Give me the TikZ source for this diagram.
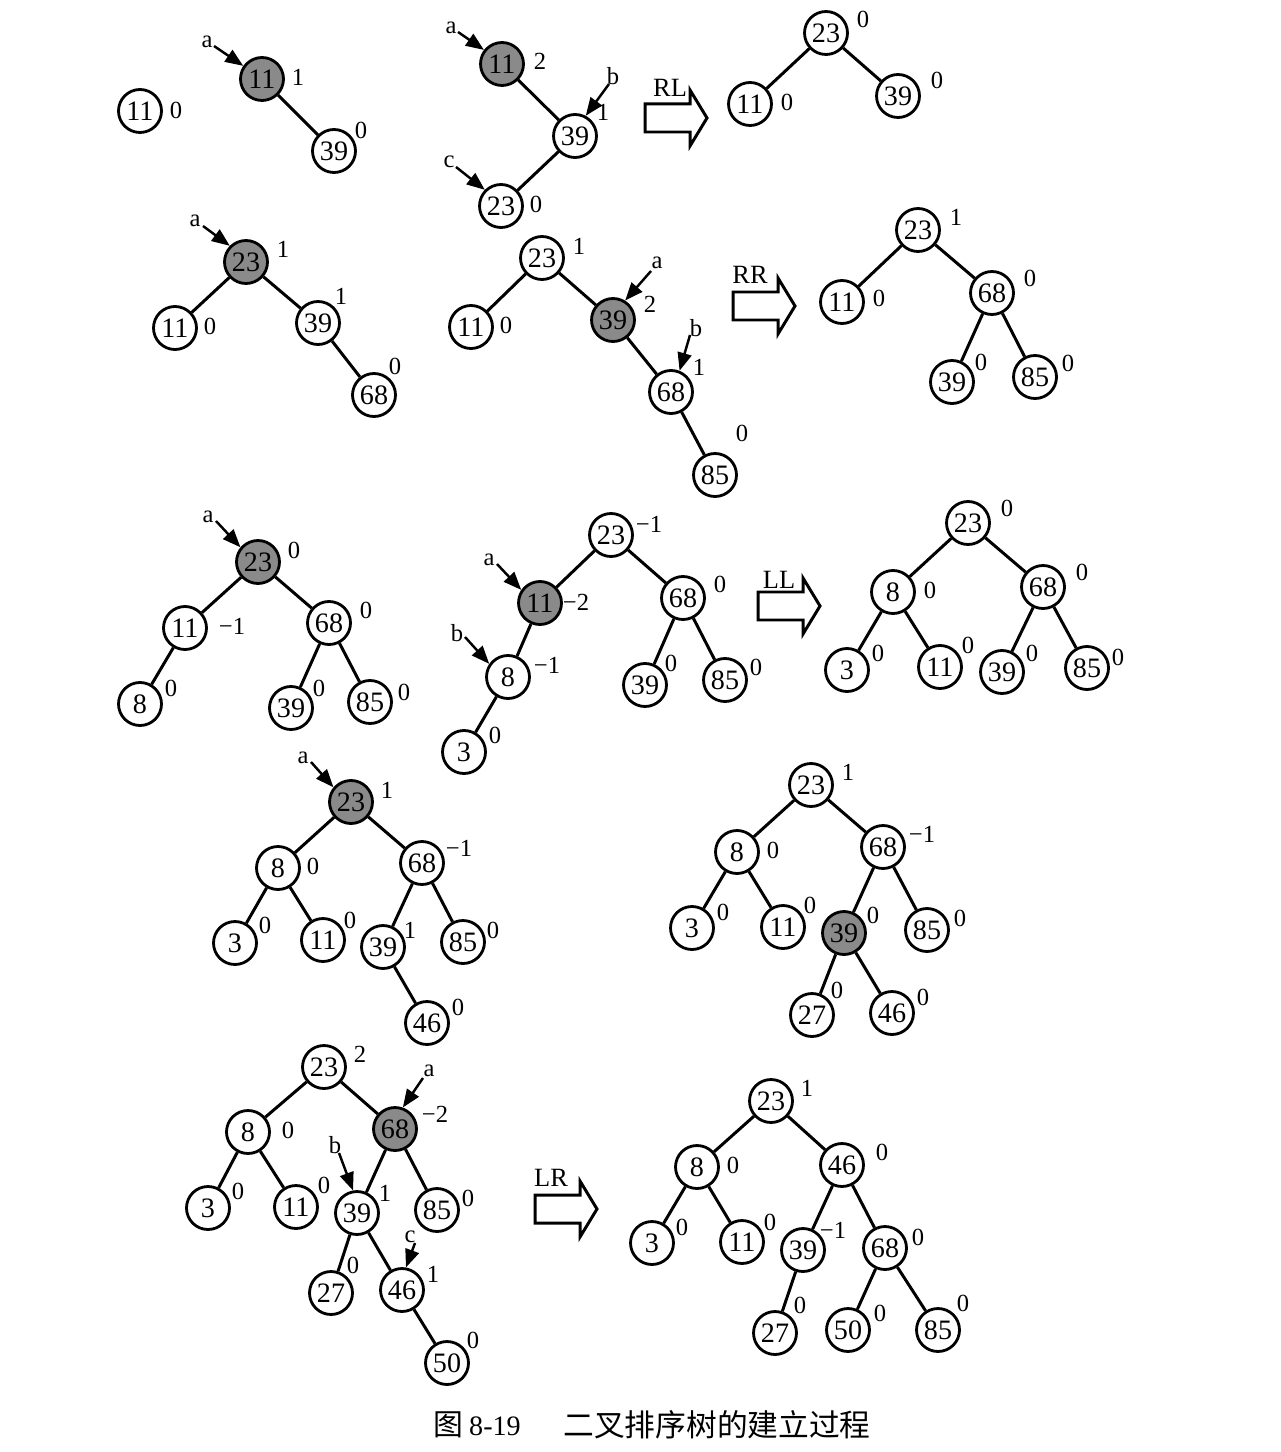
\documentclass[tikz,border=0pt]{standalone}
\usepackage{fontspec}
\setmainfont{Liberation Serif}
\newfontfamily\cjk{Noto Sans CJK SC}
\usetikzlibrary{arrows.meta}
\definecolor{nodegray}{RGB}{138,138,138}
\newcommand\Nd[6]{\node[#1] (#2) at (#3) {#4}; \node[bf] (#2-b) at (#5) {#6};}
\newcommand\Blk[4]{%
  \node[rot] (#1) at (#4) {#1};
  \draw[blk] (#2,#3) ++(0,-14) -- ++(45,0) -- ++(0,-14) -- ++(17,28) -- ++(-17,28) -- ++(0,-14) -- ++(-45,0) -- cycle;}
\begin{document}
\begin{tikzpicture}[x=0.02cm,y=-0.02cm,
  tn/.style={circle,draw,line width=1.6pt,minimum size=0.86cm,inner sep=0pt,fill=white,font=\fontsize{16}{16}\selectfont},
  gn/.style={tn,fill=nodegray},
  bf/.style={inner sep=0pt,font=\fontsize{14}{14}\selectfont},
  lab/.style={inner sep=0pt,font=\fontsize{14}{14}\selectfont},
  edge/.style={line width=1.7pt},
  ptr/.style={line width=1.4pt,-{Triangle[length=0.36cm,width=0.28cm]}},
  blk/.style={line width=1.7pt,fill=white},
  rot/.style={inner sep=0pt,font=\fontsize{15}{15}\selectfont}]
\useasboundingbox[fill=white] (0,0) rectangle (1280,1452);

% ---------- Row 1 ----------
\Nd{tn}{a1}{140,111}{11}{176,110}{0}

\Nd{gn}{b1}{262,79}{11}{298,77}{1}
\Nd{tn}{b2}{334,151}{39}{361,130}{0}
\draw[edge] (b1) -- (b2);
\node[lab] (la-b) at (207,42) {a};
\coordinate (pa-b) at (214,46);
\draw[ptr] (pa-b) -- (b1.145);

\Nd{gn}{c1}{502,64}{11}{540,61}{2}
\Nd{tn}{c2}{575,136}{39}{603,112}{1}
\Nd{tn}{c3}{501,206}{23}{536,204}{0}
\draw[edge] (c1) -- (c2) (c2) -- (c3);
\node[lab] (la-c) at (451,28) {a};
\coordinate (pa-c) at (458,32);
\draw[ptr] (pa-c) -- (c1.142);
\node[lab] (lb-c) at (613,76) {b};
\coordinate (pb-c) at (609,84);
\draw[ptr] (pb-c) -- (c2.62);
\node[lab] (lc-c) at (449,162) {c};
\coordinate (pc-c) at (456,167);
\draw[ptr] (pc-c) -- (c3.135);

\Blk{RL}{645}{118}{670,88}

\Nd{tn}{d1}{826,33}{23}{863,19}{0}
\Nd{tn}{d2}{750,104}{11}{787,102}{0}
\Nd{tn}{d3}{898,96}{39}{937,80}{0}
\draw[edge] (d1) -- (d2) (d1) -- (d3);

% ---------- Row 2 ----------
\Nd{gn}{e1}{246,262}{23}{283,249}{1}
\Nd{tn}{e2}{175,328}{11}{210,326}{0}
\Nd{tn}{e3}{318,323}{39}{341,296}{1}
\Nd{tn}{e4}{374,395}{68}{395,366}{0}
\draw[edge] (e1) -- (e2) (e1) -- (e3) (e3) -- (e4);
\node[lab] (la-e) at (195,221) {a};
\coordinate (pa-e) at (203,226);
\draw[ptr] (pa-e) -- (e1.135);

\Nd{tn}{f1}{542,258}{23}{579,246}{1}
\Nd{tn}{f2}{471,327}{11}{506,325}{0}
\Nd{gn}{f3}{613,320}{39}{650,304}{2}
\Nd{tn}{f4}{671,392}{68}{699,367}{1}
\Nd{tn}{f5}{715,475}{85}{742,433}{0}
\draw[edge] (f1) -- (f2) (f1) -- (f3) (f3) -- (f4) (f4) -- (f5);
\node[lab] (la-f) at (657,263) {a};
\coordinate (pa-f) at (651,271);
\draw[ptr] (pa-f) -- (f3.58);
\node[lab] (lb-f) at (696,328) {b};
\coordinate (pb-f) at (690,335);
\draw[ptr] (pb-f) -- (f4.68);

\Blk{RR}{733}{306}{750,275}

\Nd{tn}{g1}{918,230}{23}{956,217}{1}
\Nd{tn}{g2}{842,302}{11}{879,298}{0}
\Nd{tn}{g3}{992,293}{68}{1030,278}{0}
\Nd{tn}{g4}{952,382}{39}{981,362}{0}
\Nd{tn}{g5}{1035,377}{85}{1068,363}{0}
\draw[edge] (g1) -- (g2) (g1) -- (g3) (g3) -- (g4) (g3) -- (g5);

% ---------- Row 3 ----------
\Nd{gn}{h1}{258,562}{23}{294,550}{0}
\Nd{tn}{h2}{185,628}{11}{232,626}{−1}
\Nd{tn}{h3}{329,623}{68}{366,610}{0}
\Nd{tn}{h4}{140,704}{8}{171,688}{0}
\Nd{tn}{h5}{291,708}{39}{319,688}{0}
\Nd{tn}{h6}{370,702}{85}{404,692}{0}
\draw[edge] (h1) -- (h2) (h1) -- (h3) (h2) -- (h4) (h3) -- (h5) (h3) -- (h6);
\node[lab] (la-h) at (208,517) {a};
\coordinate (pa-h) at (216,521);
\draw[ptr] (pa-h) -- (h1.140);

\Nd{tn}{i1}{611,535}{23}{649,524}{−1}
\Nd{gn}{i2}{540,603}{11}{576,602}{−2}
\Nd{tn}{i3}{683,598}{68}{720,584}{0}
\Nd{tn}{i4}{508,677}{8}{547,665}{−1}
\Nd{tn}{i5}{464,752}{3}{495,735}{0}
\Nd{tn}{i6}{645,685}{39}{671,663}{0}
\Nd{tn}{i7}{725,680}{85}{756,667}{0}
\draw[edge] (i1) -- (i2) (i1) -- (i3) (i2) -- (i4) (i4) -- (i5) (i3) -- (i6) (i3) -- (i7);
\node[lab] (la-i) at (489,560) {a};
\coordinate (pa-i) at (497,564);
\draw[ptr] (pa-i) -- (i2.145);
\node[lab] (lb-i) at (457,633) {b};
\coordinate (pb-i) at (465,637);
\draw[ptr] (pb-i) -- (i4.145);

\Blk{LL}{758}{606}{779,580}

\Nd{tn}{j1}{968,523}{23}{1007,508}{0}
\Nd{tn}{j2}{893,592}{8}{930,590}{0}
\Nd{tn}{j3}{1043,587}{68}{1082,572}{0}
\Nd{tn}{j4}{847,670}{3}{878,653}{0}
\Nd{tn}{j5}{940,667}{11}{968,645}{0}
\Nd{tn}{j6}{1002,672}{39}{1032,653}{0}
\Nd{tn}{j7}{1087,668}{85}{1118,657}{0}
\draw[edge] (j1) -- (j2) (j1) -- (j3) (j2) -- (j4) (j2) -- (j5) (j3) -- (j6) (j3) -- (j7);

% ---------- Row 4 ----------
\Nd{gn}{k1}{351,802}{23}{387,790}{1}
\Nd{tn}{k2}{278,868}{8}{313,866}{0}
\Nd{tn}{k3}{422,863}{68}{459,848}{−1}
\Nd{tn}{k4}{235,943}{3}{265,925}{0}
\Nd{tn}{k5}{323,940}{11}{350,920}{0}
\Nd{tn}{k6}{383,947}{39}{410,930}{1}
\Nd{tn}{k7}{463,942}{85}{493,930}{0}
\Nd{tn}{k8}{427,1023}{46}{458,1007}{0}
\draw[edge] (k1) -- (k2) (k1) -- (k3) (k2) -- (k4) (k2) -- (k5) (k3) -- (k6) (k3) -- (k7) (k6) -- (k8);
\node[lab] (la-k) at (303,758) {a};
\coordinate (pa-k) at (311,762);
\draw[ptr] (pa-k) -- (k1.140);

\Nd{tn}{l1}{811,785}{23}{848,772}{1}
\Nd{tn}{l2}{737,852}{8}{773,850}{0}
\Nd{tn}{l3}{883,847}{68}{922,834}{−1}
\Nd{tn}{l4}{692,928}{3}{723,912}{0}
\Nd{tn}{l5}{783,927}{11}{810,905}{0}
\Nd{gn}{l6}{844,933}{39}{873,915}{0}
\Nd{tn}{l7}{927,930}{85}{960,918}{0}
\Nd{tn}{l8}{812,1015}{27}{837,990}{0}
\Nd{tn}{l9}{892,1013}{46}{923,997}{0}
\draw[edge] (l1) -- (l2) (l1) -- (l3) (l2) -- (l4) (l2) -- (l5) (l3) -- (l6) (l3) -- (l7) (l6) -- (l8) (l6) -- (l9);

% ---------- Row 5 ----------
\Nd{tn}{m1}{324,1067}{23}{360,1054}{2}
\Nd{tn}{m2}{248,1132}{8}{288,1130}{0}
\Nd{gn}{m3}{395,1129}{68}{435,1114}{−2}
\Nd{tn}{m4}{208,1208}{3}{238,1191}{0}
\Nd{tn}{m5}{296,1207}{11}{324,1185}{0}
\Nd{tn}{m6}{357,1213}{39}{385,1193}{1}
\Nd{tn}{m7}{437,1210}{85}{468,1198}{0}
\Nd{tn}{m8}{331,1293}{27}{353,1265}{0}
\Nd{tn}{m9}{402,1290}{46}{433,1274}{1}
\Nd{tn}{m10}{447,1363}{50}{473,1340}{0}
\draw[edge] (m1) -- (m2) (m1) -- (m3) (m2) -- (m4) (m2) -- (m5) (m3) -- (m6) (m3) -- (m7) (m6) -- (m8) (m6) -- (m9) (m9) -- (m10);
\node[lab] (la-m) at (429,1071) {a};
\coordinate (pa-m) at (423,1078);
\draw[ptr] (pa-m) -- (m3.70);
\node[lab] (lb-m) at (335,1145) {b};
\coordinate (pb-m) at (339,1153);
\draw[ptr] (pb-m) -- (m6.100);
\node[lab] (lc-m) at (410,1237) {c};
\coordinate (pc-m) at (415,1243);
\draw[ptr] (pc-m) -- (m9.80);

\Blk{LR}{535}{1209}{551,1178}

\Nd{tn}{p1}{771,1101}{23}{807,1088}{1}
\Nd{tn}{p2}{697,1167}{8}{733,1165}{0}
\Nd{tn}{p3}{842,1165}{46}{882,1152}{0}
\Nd{tn}{p4}{652,1243}{3}{682,1227}{0}
\Nd{tn}{p5}{742,1242}{11}{770,1222}{0}
\Nd{tn}{p6}{803,1250}{39}{833,1230}{−1}
\Nd{tn}{p7}{885,1248}{68}{918,1237}{0}
\Nd{tn}{p8}{775,1333}{27}{800,1305}{0}
\Nd{tn}{p9}{848,1330}{50}{880,1313}{0}
\Nd{tn}{p10}{938,1330}{85}{963,1303}{0}
\draw[edge] (p1) -- (p2) (p1) -- (p3) (p2) -- (p4) (p2) -- (p5) (p3) -- (p6) (p3) -- (p7) (p6) -- (p8) (p7) -- (p9) (p7) -- (p10);

% ---------- Caption ----------
\node[inner sep=0pt,font=\fontsize{17}{17}\selectfont\cjk] (cap1) at (448,1425) {图};
\node[inner sep=0pt,font=\fontsize{16}{16}\selectfont] (cap2) at (495,1426) {8-19};
\node[inner sep=0pt,font=\fontsize{17.5}{17.5}\selectfont\cjk] (cap3) at (717,1425) {二叉排序树的建立过程};
\end{tikzpicture}
\end{document}
